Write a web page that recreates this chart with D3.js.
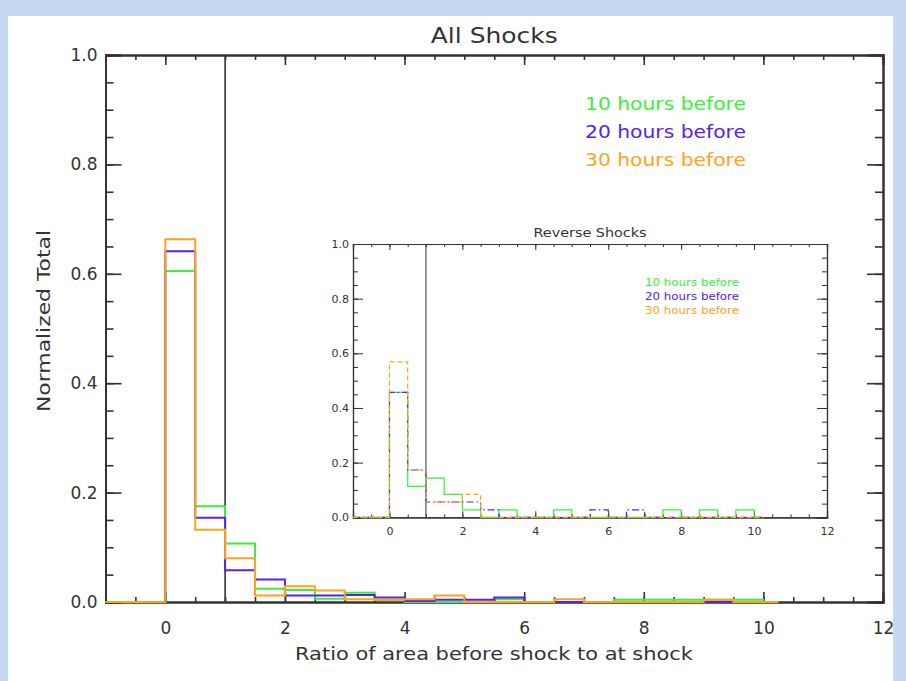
<!DOCTYPE html>
<html>
<head>
<meta charset="utf-8">
<script src="https://cdn.jsdelivr.net/npm/d3@7"></script>
<style>
  html, body { margin: 0; padding: 0; background: #c6d9f0; }
  svg { display: block; }
  text { font-family: "DejaVu Sans", sans-serif; fill: #333; }
</style>
</head>
<body>
<svg id="chart" width="906" height="681"></svg>
<script>
// Histogram bin edges (ratio of area before shock to at shock)
const binEdges = [-1, -0.5, 0, 0.5, 1, 1.5, 2, 2.5, 3, 3.5, 4, 4.5, 5, 5.5, 6, 6.5, 7, 7.5, 8, 8.5, 9, 9.5, 10, 10.25];

const seriesNames = ["10 hours before", "20 hours before", "30 hours before"];
const seriesColors = ["#3af03a", "#5522ee", "#ffa31a"];

// All shocks, normalized totals per bin
const allGreen  = [0, 0, 0.605, 0.175, 0.107, 0.024, 0.022, 0.006, 0.017, 0.004, 0, 0, 0, 0.005, 0, 0, 0, 0.004, 0.004, 0.004, 0.004, 0.004, 0];
const allBlue   = [0, 0, 0.641, 0.154, 0.058, 0.041, 0.012, 0.012, 0.013, 0.008, 0.002, 0.004, 0.004, 0.008, 0, 0, 0, 0, 0, 0, 0, 0, 0];
const allOrange = [0, 0, 0.663, 0.132, 0.080, 0.012, 0.029, 0.021, 0.005, 0.004, 0.005, 0.012, 0, 0, 0, 0.005, 0, 0, 0, 0, 0.004, 0, 0];

// Reverse shocks, normalized totals per bin
const revGreen  = [0, 0, 0.457, 0.113, 0.143, 0.084, 0.027, 0, 0.027, 0, 0, 0.027, 0, 0, 0, 0, 0, 0.027, 0, 0.027, 0, 0.027, 0];
const revBlue   = [0, 0, 0.457, 0.173, 0.056, 0.056, 0.056, 0.027, 0, 0, 0, 0, 0, 0.027, 0, 0.027, 0, 0, 0, 0, 0, 0, 0];
const revOrange = [0, 0, 0.569, 0.173, 0.056, 0.056, 0.084, 0, 0, 0, 0, 0, 0, 0, 0, 0, 0, 0, 0, 0, 0, 0, 0];

const xTicks = [0, 2, 4, 6, 8, 10, 12];
const yTicks = [0, 0.2, 0.4, 0.6, 0.8, 1.0];
const divider = 1;

const svg = d3.select("#chart");
svg.append("rect").attr("x", 8).attr("y", 16).attr("width", 885).attr("height", 665).attr("fill", "#fff");

function stepPoints(vals) {
  const pts = [];
  vals.forEach((v, i) => { pts.push([binEdges[i], v]); pts.push([binEdges[i + 1], v]); });
  return pts;
}

function drawPanel(cfg) {
  const x = d3.scaleLinear().domain([-1, 12]).range([cfg.left, cfg.right]);
  const y = d3.scaleLinear().domain([0, 1]).range([cfg.bottom, cfg.top]);
  const g = svg.append("g");
  const axisColor = "#333";
  const fmt = d3.format(".1f");

  const xMinor = d3.range(-1, 12.01, 0.5);
  const yMinor = d3.range(0, 1.001, 0.05);

  // bottom / top axes
  const bottom = g.append("g").attr("transform", `translate(0,${cfg.bottom})`)
    .call(d3.axisBottom(x).tickValues(xMinor).tickSize(-cfg.xMinorLen).tickFormat(""));
  const bottomMaj = g.append("g").attr("transform", `translate(0,${cfg.bottom})`)
    .call(d3.axisBottom(x).tickValues(xTicks).tickSize(-cfg.xMajorLen).tickPadding(cfg.xMajorLen + cfg.xPad).tickFormat(d3.format("d")));
  const top = g.append("g").attr("transform", `translate(0,${cfg.top})`)
    .call(d3.axisTop(x).tickValues(xMinor).tickSize(-cfg.xMinorLen).tickFormat(""));
  const topMaj = g.append("g").attr("transform", `translate(0,${cfg.top})`)
    .call(d3.axisTop(x).tickValues(xTicks).tickSize(-cfg.xMajorLen).tickFormat(""));
  // left / right axes
  const left = g.append("g").attr("transform", `translate(${cfg.left},0)`)
    .call(d3.axisLeft(y).tickValues(yMinor).tickSize(-cfg.yMinorLen).tickFormat(""));
  const leftMaj = g.append("g").attr("transform", `translate(${cfg.left},0)`)
    .call(d3.axisLeft(y).tickValues(yTicks).tickSize(-cfg.yMajorLen).tickPadding(cfg.yMajorLen + cfg.yPad).tickFormat(fmt));
  const right = g.append("g").attr("transform", `translate(${cfg.right},0)`)
    .call(d3.axisRight(y).tickValues(yMinor).tickSize(-cfg.yMinorLen).tickFormat(""));
  const rightMaj = g.append("g").attr("transform", `translate(${cfg.right},0)`)
    .call(d3.axisRight(y).tickValues(yTicks).tickSize(-cfg.yMajorLen).tickFormat(""));

  [bottom, bottomMaj, top, topMaj, left, leftMaj, right, rightMaj].forEach(a => {
    a.selectAll("path.domain").attr("stroke", axisColor).attr("stroke-width", cfg.axisWidth);
    a.selectAll(".tick line").attr("stroke", axisColor).attr("stroke-width", cfg.tickWidth);
    a.selectAll("text").attr("fill", "#333").style("font-size", cfg.tickFont + "px")
      .style("font-family", "DejaVu Sans, sans-serif");
  });

  // vertical reference line at ratio = 1
  g.append("line").attr("x1", x(divider)).attr("x2", x(divider))
    .attr("y1", y(0)).attr("y2", y(1)).attr("stroke", axisColor).attr("stroke-width", cfg.refWidth);

  const line = d3.line().x(d => x(d[0])).y(d => y(d[1]));
  cfg.series.forEach((vals, i) => {
    g.append("path").attr("d", line(stepPoints(vals)))
      .attr("fill", "none").attr("stroke", seriesColors[i])
      .attr("stroke-width", cfg.lineWidth)
      .attr("stroke-dasharray", cfg.dashes[i]);
  });

  // title
  g.append("text").attr("x", (cfg.left + cfg.right) / 2).attr("y", cfg.titleY)
    .attr("text-anchor", "middle").style("font-size", cfg.titleFont + "px")
    .attr("textLength", cfg.titleLen).attr("lengthAdjust", "spacingAndGlyphs").text(cfg.title);

  // legend
  seriesNames.forEach((name, i) => {
    g.append("text").attr("x", cfg.legendX - cfg.legendLen).attr("y", cfg.legendY + i * cfg.legendStep)
      .attr("text-anchor", "start").style("font-size", cfg.legendFont + "px")
      .attr("textLength", cfg.legendLen).attr("lengthAdjust", "spacingAndGlyphs")
      .style("fill", seriesColors[i]).text(name);
  });
  return { x, y };
}

// main panel
drawPanel({
  left: 105.5, right: 883, top: 55, bottom: 602,
  xMajorLen: 10, xMinorLen: 5, yMajorLen: 16, yMinorLen: 8,
  xPad: 10, yPad: -8,
  axisWidth: 2, tickWidth: 1.6, refWidth: 1.6, lineWidth: 2,
  tickFont: 17,
  series: [allGreen, allBlue, allOrange],
  dashes: [null, null, null],
  title: "All Shocks", titleY: 43, titleFont: 21, titleLen: 127,
  legendX: 746, legendY: 110, legendStep: 28, legendFont: 18, legendLen: 161
});

// inset panel
svg.append("rect").attr("x", 353).attr("y", 244).attr("width", 474).attr("height", 273).attr("fill", "#fff");
drawPanel({
  left: 353, right: 827, top: 244, bottom: 517.3,
  xMajorLen: 6, xMinorLen: 3, yMajorLen: 10, yMinorLen: 5,
  xPad: 4, yPad: -6,
  axisWidth: 1.2, tickWidth: 1, refWidth: 1, lineWidth: 1.2,
  tickFont: 11,
  series: [revGreen, revBlue, revOrange],
  dashes: [null, "7,3,1.5,3", "5,3"],
  title: "Reverse Shocks", titleY: 237, titleFont: 12, titleLen: 113,
  legendX: 739, legendY: 286, legendStep: 14, legendFont: 11, legendLen: 94
});

// axis titles
svg.append("text").attr("x", 494).attr("y", 660).attr("text-anchor", "middle")
  .style("font-size", "18px").attr("textLength", 398).attr("lengthAdjust", "spacingAndGlyphs")
  .text("Ratio of area before shock to at shock");
svg.append("text").attr("transform", "translate(50,321) rotate(-90)").attr("text-anchor", "middle")
  .style("font-size", "18px").attr("textLength", 182).attr("lengthAdjust", "spacingAndGlyphs")
  .text("Normalized Total");
</script>
</body>
</html>
